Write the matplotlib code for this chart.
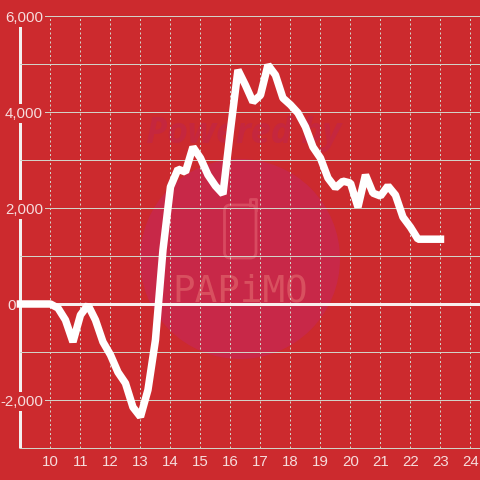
import matplotlib
matplotlib.use("Agg")
import matplotlib.pyplot as plt
from matplotlib.patches import Circle, FancyBboxPatch
from matplotlib.lines import Line2D

plt.rcParams['font.family'] = ['Liberation Sans', 'DejaVu Sans']

hours = [9, 10, 10.25, 10.5, 10.75, 11, 11.25, 11.5, 11.75, 12, 12.25, 12.5, 12.75, 13, 13.25, 13.5, 13.75,
         14, 14.25, 14.5, 14.75, 15, 15.25, 15.5, 15.75, 16, 16.25, 16.5, 16.75, 17, 17.25, 17.5, 17.75,
         18, 18.25, 18.5, 18.75, 19, 19.25, 19.5, 19.75, 20, 20.25, 20.5, 20.75, 21, 21.25, 21.5, 21.75,
         22, 22.25, 22.5, 23]
values = [0, 0, -83, -333, -790, -230, -20, -333, -790, -1060, -1420, -1650, -2150, -2350, -1790, -750, 1125,
          2440, 2810, 2750, 3270, 3040, 2690, 2460, 2290, 3625, 4875, 4560, 4210, 4350, 4980, 4770, 4290,
          4150, 3980, 3690, 3270, 3040, 2625, 2420, 2560, 2520, 2020, 2690, 2310, 2250, 2460, 2270, 1810,
          1600, 1350, 1350, 1350]
x_ticks = list(range(10, 25))
y_major = [-2000, 0, 2000, 4000, 6000]
y_major_labels = ['-2,000', '0', '2,000', '4,000', '6,000']
y_minor = [-3000, -1000, 1000, 3000, 5000]

BG = '#cc2a2e'
TXT = '#f6dcdc'
GRID = '#d2d2c8'
PX = 0.72

fig = plt.figure(figsize=(4.8, 4.8), dpi=100, facecolor=BG)
ax = fig.add_axes([20/480, 32/480, 460/480, 432/480])
ax.set_facecolor('none')
ax.set_xlim(8.985, 24.318)
ax.set_ylim(-3000, 6000)

# watermark
fig.add_artist(Circle((240/480, 1-259/480), 100/480, transform=fig.transFigure,
                      facecolor='#c82848', edgecolor='none', zorder=-2))
fig.add_artist(FancyBboxPatch((224.5/480, 1-258/480), 31.5/480, 53/480, boxstyle='round,pad=0,rounding_size=0.012',
                              transform=fig.transFigure, facecolor='none', edgecolor='#d84a60', lw=2.0, zorder=-1))
fig.add_artist(Line2D([250/480, 250/480, 256/480, 256/480], [1-205/480, 1-199/480, 1-199/480, 1-210/480],
                      transform=fig.transFigure, color='#d84a60', lw=2.0, solid_joinstyle='round', zorder=-1))
fig.text(243/480, 1-134/480, 'Powered by', ha='center', va='center', fontsize=26, fontweight='bold',
         fontstyle='italic', family='Open Sans', color='#c5273e', zorder=-1)
fig.text(240/480, 1-291/480, 'PAPiMO', ha='center', va='center', fontsize=27, family='DejaVu Sans Mono',
         fontweight='normal', color='#d8505f', zorder=-1)

ax.set_xticks(x_ticks)
ax.set_yticks(y_major)
ax.set_yticklabels(y_major_labels)
ax.set_yticks(y_minor, minor=True)
ax.grid(True, axis='y', which='both', color=GRID, lw=1*PX)
ax.grid(True, axis='x', color=GRID, lw=1*PX, linestyle=(0, (2, 2.5)))
ax.tick_params(axis='both', which='both', length=0, labelcolor=TXT, labelsize=10.8)
ax.tick_params(axis='x', pad=5)
ax.tick_params(axis='y', pad=-23*PX)
for t in ax.yaxis.get_major_ticks():
    t.label1.set_bbox(dict(facecolor=BG, edgecolor='none', pad=1.5))
ax.yaxis.get_major_ticks()[1].set_pad(4*PX)

ax.axhline(0, color='#f8eeee', lw=3*PX, zorder=4)
ax.yaxis.set_zorder(3)
ax.xaxis.set_zorder(3)
for s in ['top', 'right']:
    ax.spines[s].set_visible(False)
ax.spines['bottom'].set_color(GRID)
ax.spines['bottom'].set_linewidth(1*PX)
ax.spines['left'].set_color('#f4f0f0')
ax.spines['left'].set_linewidth(3*PX)
ax.spines['left'].set_capstyle('butt')
ax.spines['left'].set_zorder(2.5)

ax.plot(hours, values, color='white', lw=7.5*PX, solid_joinstyle='bevel', solid_capstyle='projecting',
        zorder=5, clip_on=False)

fig.savefig('out.png', dpi=100, facecolor=BG)
